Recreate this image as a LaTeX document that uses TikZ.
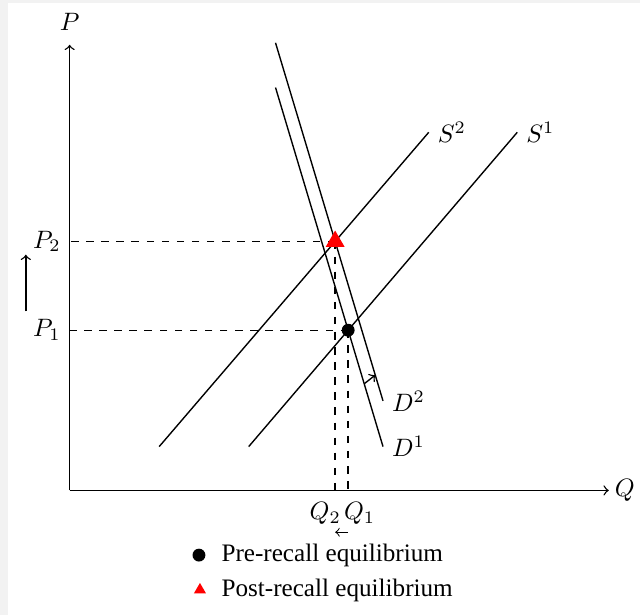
\documentclass[tikz,border=0pt]{standalone}
\usepackage{fontspec}
\usetikzlibrary{shapes.geometric}
\newfontfamily\legendfont{Liberation Serif}
\definecolor{pagegray}{RGB}{242,242,242}
\begin{document}
\begin{tikzpicture}[>=to, line width=0.55pt]
  \tikzset{
    guide/.style={dashed},
    eqdot/.style={circle, fill=black, inner sep=0pt, minimum size=0.18cm},
    eqtri/.style={regular polygon, regular polygon sides=3, fill=red,
                  inner sep=0pt, minimum size=0.305cm},
    legtri/.style={eqtri, minimum size=0.195cm},
    legtext/.style={anchor=base west, inner sep=0pt, font=\legendfont},
  }
  \fill[pagegray] (-0.973,-1.738) rectangle (7.965,6.853);
  \fill[white] (-0.862,-1.738) rectangle (7.965,6.811);

  % axes
  \coordinate (O) at (0,0);
  \coordinate (Ytop) at (0,6.227);
  \coordinate (Xend) at (7.534,0);
  \draw[->] (O) -- (Ytop);
  \draw[->] (O) -- (Xend);
  \node (P) at (0,6.547) {$P$};
  \node (Q) at (7.756,0) {$Q$};

  % supply and demand
  \coordinate (S2a) at (1.251,0.612);
  \coordinate (S2b) at (5.018,5.004);
  \coordinate (S1a) at (2.502,0.612);
  \coordinate (S1b) at (6.255,5.004);
  \coordinate (D1a) at (2.877,5.630);
  \coordinate (D1b) at (4.379,0.612);
  \coordinate (D2a) at (2.877,6.255);
  \coordinate (D2b) at (4.379,1.251);
  \draw (S2a) -- (S2b) node[right] (S2lbl) {$S^2$};
  \draw (S1a) -- (S1b) node[right] (S1lbl) {$S^1$};
  \draw (D1a) -- (D1b) node[right] (D1lbl) {$D^1$};
  \draw (D2a) -- (D2b) node[right] (D2lbl) {$D^2$};

  % shift of demand
  \path (D1a) -- (D1b) coordinate[pos=0.825] (dA);
  \path (D2a) -- (D2b) coordinate[pos=0.928] (dB);
  \draw[->] (dA) -- (dB);

  % equilibria
  \coordinate (E1) at (intersection of S1a--S1b and D1a--D1b);
  \coordinate (E2) at (intersection of S2a--S2b and D2a--D2b);
  \draw[guide] (E2) -- (E2 -| O) node[left] (P2) {$P_2$};
  \draw[guide] (E1) -- (E1 -| O) node[left] (P1) {$P_1$};
  \draw[guide] (E2) -- (E2 |- O);
  \draw[guide] (E1) -- (E1 |- O);
  \node[eqdot] (E1dot) at (E1) {};
  \node[eqtri] (E2tri) at (E2) {};

  \node[anchor=base] (Q2) at (3.572,-0.403) {$Q_2$};
  \node[anchor=base] (Q1) at (4.052,-0.403) {$Q_1$};

  % price and quantity moves
  \coordinate (qs) at (3.892,-0.584);
  \coordinate (qe) at (3.711,-0.584);
  \draw[->, thin] (qs) -- (qe);
  \coordinate (ps) at (-0.612,2.502);
  \coordinate (pe) at (-0.612,3.294);
  \draw[->] (ps) -- (pe);

  % legend
  \node[eqdot] (legdot) at (1.807,-0.904) {};
  \node[legtext] (legpre) at (2.113,-0.987) {Pre-recall equilibrium};
  \node[legtri] (legtri) at (1.821,-1.39) {};
  \node[legtext] (legpost) at (2.113,-1.487) {Post-recall equilibrium};
\end{tikzpicture}
\end{document}
